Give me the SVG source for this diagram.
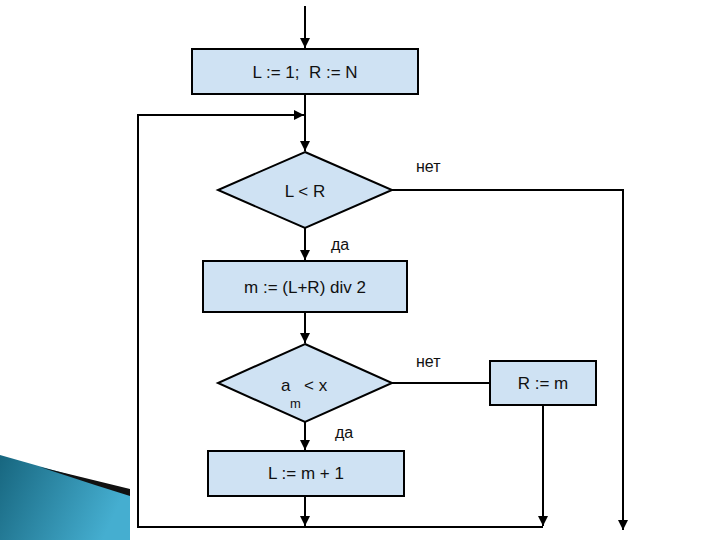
<svg xmlns="http://www.w3.org/2000/svg" width="720" height="540" viewBox="0 0 720 540">
<style>
.box{fill:#cfe2f3;stroke:#000;stroke-width:2}
.ln{fill:none;stroke:#000;stroke-width:2}
.t{font-family:"Liberation Sans",Arial,sans-serif;font-size:17px;fill:#111;text-anchor:middle}
.lab{font-family:"Liberation Sans",Arial,sans-serif;font-size:16px;fill:#111}
</style>
<defs>
<marker id="ah" viewBox="0 0 10 10" refX="10" refY="5" markerWidth="5" markerHeight="5" orient="auto" markerUnits="strokeWidth">
<path d="M0,0 L10,5 L0,10 z" fill="#000"/>
</marker>
<linearGradient id="dec" x1="0" y1="0" x2="1" y2="0.3">
<stop offset="0" stop-color="#17667f"/>
<stop offset="1" stop-color="#45aed0"/>
</linearGradient>
</defs>
<rect width="720" height="540" fill="#fff"/>
<g id="decoration">
<polygon points="0,455 130,492 130,540 0,540" fill="url(#dec)"/>
<polygon points="40,467 130,489 130,496 95,485" fill="#111"/>
</g>
<g id="connectors">
<line class="ln" x1="305" y1="6" x2="305" y2="48" marker-end="url(#ah)"/>
<line class="ln" x1="305" y1="94" x2="305" y2="151" marker-end="url(#ah)"/>
<polyline class="ln" points="543,405 543,526" marker-end="url(#ah)"/>
<polyline class="ln" points="543,527 138,527 138,115 304,115" marker-end="url(#ah)"/>
<polyline class="ln" points="392,190 623,190 623,530" marker-end="url(#ah)"/>
<line class="ln" x1="305" y1="228" x2="305" y2="260" marker-end="url(#ah)"/>
<line class="ln" x1="305" y1="312" x2="305" y2="343" marker-end="url(#ah)"/>
<line class="ln" x1="392" y1="383" x2="490" y2="383"/>
<line class="ln" x1="305" y1="422" x2="305" y2="450" marker-end="url(#ah)"/>
<line class="ln" x1="305" y1="496" x2="305" y2="526" marker-end="url(#ah)"/>
<text class="lab" x="416" y="172">нет</text>
<text class="lab" x="331" y="250">да</text>
<text class="lab" x="416" y="367">нет</text>
<text class="lab" x="335" y="438">да</text>
</g>
<g id="init">
<rect class="box" x="192" y="49" width="226" height="45"/>
<text class="t" x="305" y="78" xml:space="preserve">L := 1;  R := N</text>
</g>
<g id="cond1">
<polygon class="box" points="305,152 392,190 305,228 218,190"/>
<text class="t" x="305" y="197">L &lt; R</text>
</g>
<g id="mid">
<rect class="box" x="203" y="261" width="204" height="51"/>
<text class="t" x="305" y="293">m := (L+R) div 2</text>
</g>
<g id="cond2">
<polygon class="box" points="305,344 392,383 305,422 218,383"/>
<text class="lab" x="281" y="391" style="font-size:17px">a</text>
<text class="lab" x="290" y="408" style="font-size:13px">m</text>
<text class="lab" x="304" y="391" style="font-size:17px">&lt; x</text>
</g>
<g id="setR">
<rect class="box" x="490" y="361" width="106" height="44"/>
<text class="t" x="543" y="389">R := m</text>
</g>
<g id="setL">
<rect class="box" x="208" y="451" width="196" height="45"/>
<text class="t" x="306" y="479">L := m + 1</text>
</g>
</svg>
